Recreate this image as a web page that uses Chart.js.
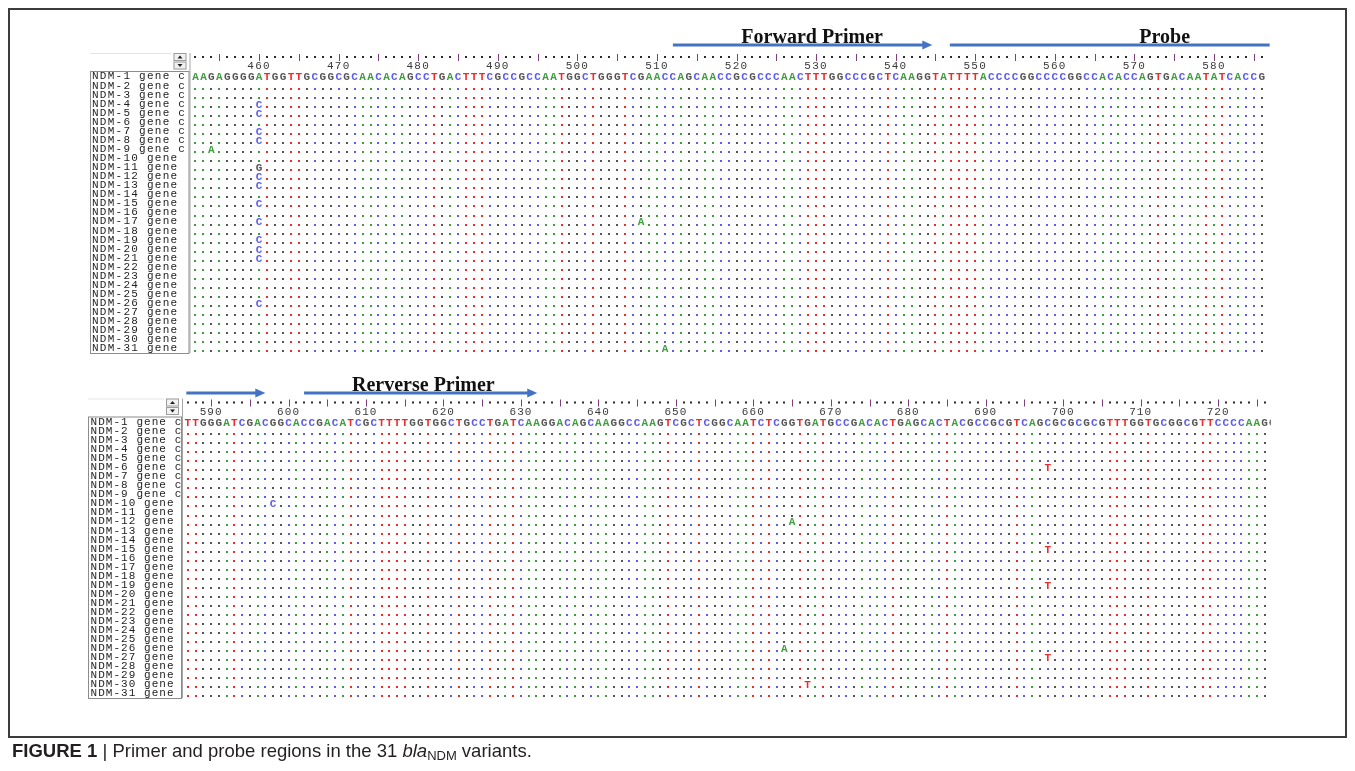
<!DOCTYPE html>
<html>
<head>
<meta charset="utf-8">
<title>Primer and probe regions</title>
<script src="https://cdn.jsdelivr.net/npm/chart.js@4.4.0/dist/chart.umd.min.js"></script>
<style>
  body { margin: 0; background: #fff; width: 1355px; height: 771px; position: relative; overflow: hidden; }
  .frame { position: absolute; left: 8px; top: 8px; width: 1335px; height: 726px; border: 2px solid #3c3c3c; }
  canvas.panel { position: absolute; left: 0; top: 0; }
  .caption { position: absolute; left: 12px; top: 740px; font: 18.5px "Liberation Sans", Arial, sans-serif; color: #231f20; white-space: nowrap; }
  .caption sub { font-size: 13px; vertical-align: -3px; }
</style>
</head>
<body>
<div class="frame"></div>
<canvas id="upper-panel" class="panel" width="1355" height="771"></canvas>
<canvas id="lower-panel" class="panel" width="1355" height="771"></canvas>
<div class="caption"><b>FIGURE 1</b> | Primer and probe regions in the 31 <i>bla</i><sub>NDM</sub> variants.</div>

<script>
// NDM-1 reference sequence for each window
const upperStart = 452;
const upperSeq = 'AAGAGGGGATGGTTGCGGCGCAACACAGCCTGACTTTCGCCGCCAATGGCTGGGTCGAACC' +
                 'AGCAACCGCGCCCAACTTTGGCCCGCTCAAGGTATTTTACCCCGGCCCCGGCCACACCAGTGACAATATCACCG';
const lowerStart = 587;
const lowerSeq = 'TTGGGATCGACGGCACCGACATCGCTTTTGGTGGCTGCCTGATCAAGGACAGCAAGGCCAAGTCGCTCGG' +
                 'CAATCTCGGTGATGCCGACACTGAGCACTACGCCGCGTCAGCGCGCGCGTTTGGTGCGGCGTTCCCCAAGG';

const variantNames = [
  'NDM-1 gene c', 'NDM-2 gene c', 'NDM-3 gene c', 'NDM-4 gene c', 'NDM-5 gene c',
  'NDM-6 gene c', 'NDM-7 gene c', 'NDM-8 gene c', 'NDM-9 gene c', 'NDM-10 gene',
  'NDM-11 gene', 'NDM-12 gene', 'NDM-13 gene', 'NDM-14 gene', 'NDM-15 gene',
  'NDM-16 gene', 'NDM-17 gene', 'NDM-18 gene', 'NDM-19 gene', 'NDM-20 gene',
  'NDM-21 gene', 'NDM-22 gene', 'NDM-23 gene', 'NDM-24 gene', 'NDM-25 gene',
  'NDM-26 gene', 'NDM-27 gene', 'NDM-28 gene', 'NDM-29 gene', 'NDM-30 gene',
  'NDM-31 gene'
];

// [variant number, nucleotide position, base]
const upperMutations = [
  [4, 460, 'C'], [5, 460, 'C'], [7, 460, 'C'], [8, 460, 'C'], [9, 454, 'A'],
  [11, 460, 'G'], [12, 460, 'C'], [13, 460, 'C'], [15, 460, 'C'], [17, 460, 'C'],
  [17, 508, 'A'], [19, 460, 'C'], [20, 460, 'C'], [21, 460, 'C'], [26, 460, 'C'],
  [31, 511, 'A']
];
const lowerMutations = [
  [6, 698, 'T'], [10, 598, 'C'], [12, 665, 'A'], [15, 698, 'T'], [19, 698, 'T'],
  [26, 664, 'A'], [27, 698, 'T'], [30, 667, 'T']
];

const upperTicks = [460, 470, 480, 490, 500, 510, 520, 530, 540, 550, 560, 570, 580];
const lowerTicks = [590, 600, 610, 620, 630, 640, 650, 660, 670, 680, 690, 700, 710, 720];

// primer / probe spans in nucleotide positions
const upperPrimers = [
  { label: 'Forward Primer', from: 512, to: 544.6, head: true, labelAt: 529.5 },
  { label: 'Probe', from: 546.8, to: 587, head: false, labelAt: 573.8 }
];
const lowerPrimers = [
  { label: '', from: 586.8, to: 597, head: true },
  { label: 'Rerverse Primer', from: 602, to: 632.1, head: true, labelAt: 617.4 }
];

const baseColors = { A: '#3e9e3e', T: '#ee2a2a', C: '#5c5cf0', G: '#565656' };
const monoFont = '"Liberation Mono", "Courier New", monospace';

function buildPoints(seq, start, mutations) {
  const pts = [];
  variantNames.forEach((name, r) => {
    for (let i = 0; i < seq.length; i++) {
      const pos = start + i;
      const hit = mutations.find(m => m[0] === r + 1 && m[1] === pos);
      if (r === 0) pts.push({ x: pos, y: name, base: seq[i], letter: true });
      else if (hit) pts.push({ x: pos, y: name, base: hit[2], letter: true });
      else pts.push({ x: pos, y: name, base: seq[i], letter: false });
    }
  });
  return pts;
}

function alignmentPlugin(panel) {
  return {
    id: 'alignment',
    beforeDraw(chart) {
      // widen the mono labels a little, like the old alignment viewer
      chart.ctx.letterSpacing = panel.spacing + 'px';
    },
    afterDatasetsDraw(chart) {
      const ctx = chart.ctx;
      const area = chart.chartArea;
      const meta = chart.getDatasetMeta(0);
      const data = chart.data.datasets[0].data;
      ctx.save();
      ctx.letterSpacing = '0px';
      ctx.beginPath();
      ctx.rect(area.left, area.top - 2, area.right - area.left, area.bottom - area.top + 4);
      ctx.clip();
      ctx.font = 'bold 11px ' + monoFont;
      ctx.textAlign = 'center';
      ctx.textBaseline = 'alphabetic';
      meta.data.forEach((pt, i) => {
        const d = data[i];
        ctx.fillStyle = baseColors[d.base];
        if (d.letter) ctx.fillText(d.base, pt.x, pt.y + 3.8);
        else ctx.fillRect(Math.round(pt.x) - 1, Math.round(pt.y) + 2, 2, 2);
      });
      ctx.restore();
    },
    afterDraw(chart) {
      const { ctx, chartArea: area, scales: { x } } = chart;
      const top = area.top;
      ctx.save();
      ctx.letterSpacing = '0px';

      // name column box and separator
      ctx.lineWidth = 1;
      ctx.strokeStyle = '#8c8c8c';
      ctx.strokeRect(panel.boxLeft + 0.5, top - 0.5, area.left - panel.boxLeft - 3, area.bottom - top + 1);
      ctx.strokeStyle = '#a5a5a5';
      ctx.beginPath();
      ctx.moveTo(area.left - 1.5, top - 19);
      ctx.lineTo(area.left - 1.5, area.bottom);
      ctx.stroke();
      ctx.strokeStyle = '#e4e4e4';
      ctx.beginPath();
      ctx.moveTo(panel.boxLeft, top - 18.5);
      ctx.lineTo(area.left - 20, top - 18.5);
      ctx.stroke();

      // little scroll buttons
      const bx = area.left - 18;
      [[top - 19, true], [top - 10.5, false]].forEach(([y0, up]) => {
        ctx.fillStyle = '#f1f1f1';
        ctx.fillRect(bx, y0, 13, 8);
        ctx.strokeStyle = '#9c9c9c';
        ctx.strokeRect(bx + 0.5, y0 + 0.5, 12, 7);
        const cx = bx + 6.5, cy = y0 + 4;
        ctx.fillStyle = '#1e1e1e';
        ctx.beginPath();
        if (up) { ctx.moveTo(cx - 2.5, cy + 1.5); ctx.lineTo(cx + 2.5, cy + 1.5); ctx.lineTo(cx, cy - 1.5); }
        else { ctx.moveTo(cx - 2.5, cy - 1.5); ctx.lineTo(cx + 2.5, cy - 1.5); ctx.lineTo(cx, cy + 1.5); }
        ctx.fill();
      });

      // ruler: dot per base, bar every fifth
      for (let p = Math.ceil(x.min); p <= x.max; p++) {
        const px = Math.round(x.getPixelForValue(p));
        if (p % 5 === 0) {
          ctx.fillStyle = '#7b3f7b';
          ctx.fillRect(px, top - 18, 1, 7);
        } else {
          ctx.fillStyle = '#2a2a2a';
          ctx.fillRect(px - 1, top - 16, 2, 2);
        }
      }

      // primer and probe arrows
      const ay = top - panel.arrowGap;
      panel.primers.forEach(pr => {
        const x0 = x.getPixelForValue(pr.from);
        const x1 = x.getPixelForValue(pr.to);
        ctx.strokeStyle = '#4472c4';
        ctx.fillStyle = '#4472c4';
        ctx.lineWidth = 3;
        ctx.beginPath();
        ctx.moveTo(x0, ay);
        ctx.lineTo(pr.head ? x1 - 8 : x1, ay);
        ctx.stroke();
        if (pr.head) {
          ctx.beginPath();
          ctx.moveTo(x1, ay);
          ctx.lineTo(x1 - 10, ay - 4.5);
          ctx.lineTo(x1 - 10, ay + 4.5);
          ctx.closePath();
          ctx.fill();
        }
        if (pr.label) {
          ctx.fillStyle = '#111';
          ctx.font = 'bold 20px "Liberation Serif", "Times New Roman", serif';
          ctx.textAlign = 'center';
          ctx.textBaseline = 'alphabetic';
          ctx.fillText(pr.label, x.getPixelForValue(pr.labelAt), ay - 2.5);
        }
      });
      ctx.restore();
    }
  };
}

function drawPanel(canvasId, panel) {
  return new Chart(document.getElementById(canvasId), {
    type: 'scatter',
    data: {
      datasets: [{
        data: buildPoints(panel.seq, panel.start, panel.mutations),
        pointRadius: 0,
        pointHoverRadius: 0
      }]
    },
    options: {
      responsive: false,
      animation: false,
      events: [],
      layout: { padding: panel.padding },
      plugins: { legend: { display: false }, tooltip: { enabled: false } },
      scales: {
        x: {
          type: 'linear',
          position: 'top',
          bounds: 'data',
          min: panel.min,
          max: panel.max,
          grid: { display: false, drawTicks: false },
          border: { display: false },
          ticks: {
            padding: 0,
            autoSkip: false,
            maxRotation: 0,
            color: '#3a3a3a',
            font: { family: monoFont, size: 11, lineHeight: 1 }
          },
          afterBuildTicks: s => { s.ticks = panel.ticks.map(v => ({ value: v })); },
          afterFit: s => { s.height = 18; }
        },
        y: {
          type: 'category',
          labels: variantNames,
          offset: true,
          grid: { display: false, drawTicks: false },
          border: { display: false },
          ticks: {
            crossAlign: 'far',
            padding: 0,
            autoSkip: false,
            color: '#1e1e1e',
            font: { family: monoFont, size: 11 }
          },
          afterFit: s => { s.width = panel.nameWidth; }
        }
      }
    },
    plugins: [alignmentPlugin(panel)]
  });
}

drawPanel('upper-panel', {
  seq: upperSeq, start: upperStart, mutations: upperMutations, ticks: upperTicks,
  primers: upperPrimers, min: 451.5, max: 586.5,
  padding: { left: 92, top: 54, right: 89.3, bottom: 418 },
  nameWidth: 99.5, boxLeft: 90, arrowGap: 27, spacing: 1.25
});

drawPanel('lower-panel', {
  seq: lowerSeq, start: lowerStart, mutations: lowerMutations, ticks: lowerTicks,
  primers: lowerPrimers, min: 586.5, max: 726.8,
  padding: { left: 90.5, top: 399.5, right: 84.2, bottom: 73 },
  nameWidth: 93.5, boxLeft: 88, arrowGap: 24.5, spacing: 1.05
});
</script>
</body>
</html>
